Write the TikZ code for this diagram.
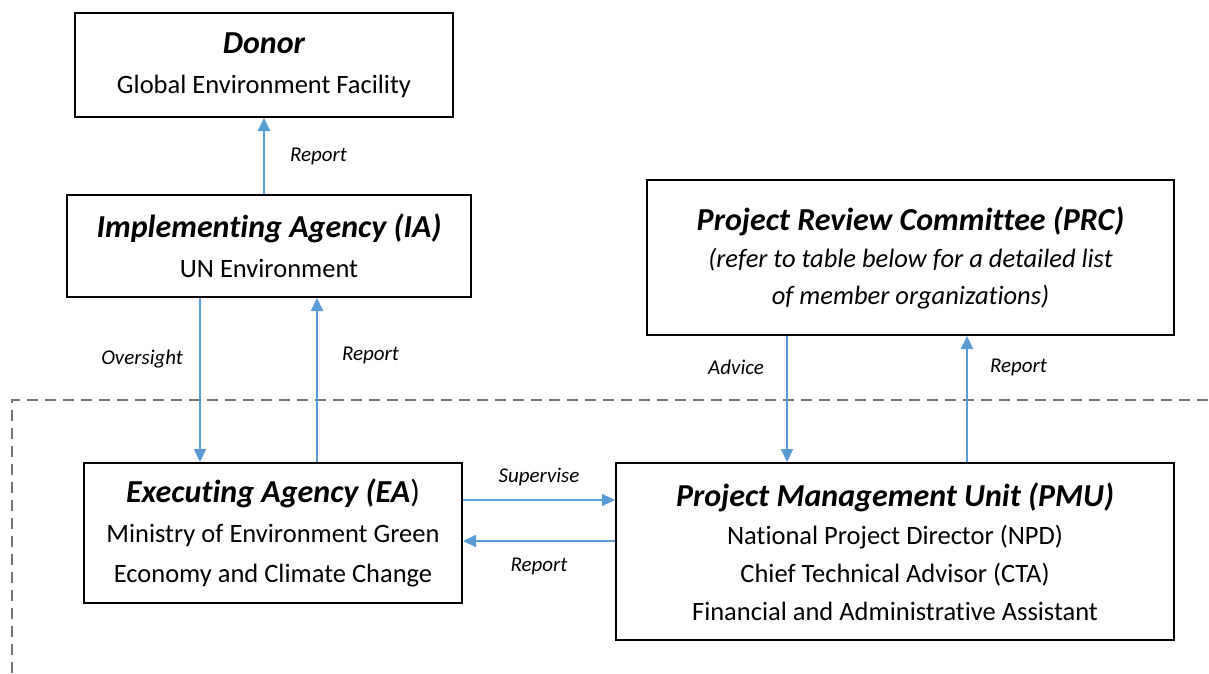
\documentclass[tikz,border=0pt]{standalone}
\usepackage{fontspec}
\setmainfont{Carlito}[Ligatures=NoCommon]
\usetikzlibrary{positioning,arrows.meta}
\definecolor{linkblue}{RGB}{91,155,213}
\definecolor{fencegray}{RGB}{118,116,116}
\newcommand{\unittitle}[1]{{\fontsize{32}{42}\selectfont\bfseries\itshape #1}}
\tikzset{
    >={Triangle[width=12pt,length=13pt]},
    unitbox/.style={
        rectangle,
        draw=black, line width=2pt,
        align=center,
        inner sep=0pt,
        font=\fontsize{26.5}{40}\selectfont
    },
    link/.style={draw=linkblue, line width=2pt, ->},
    linklabel/.style={font=\fontsize{21}{24}\selectfont\itshape, inner sep=2pt},
    fence/.style={draw=fencegray, line width=2.8pt, dash pattern=on 11pt off 7pt}
}
\begin{document}
\begin{tikzpicture}[x=1pt, y=-1pt]
    \useasboundingbox (0,0) rectangle (1209,673);

    % boxes
    \node[unitbox, minimum width=378pt, minimum height=104pt] (donor) at (264,65)
        {\unittitle{Donor}\\Global Environment Facility};
    \node[unitbox, minimum width=404pt, minimum height=102pt] (ia) at (269,246)
        {\unittitle{Implementing Agency (IA)}\\UN Environment};
    \node[unitbox, minimum width=527pt, minimum height=155pt, font=\fontsize{26.5}{37}\selectfont\itshape] (prc) at (910.5,257.5)
        {\unittitle{Project Review Committee (PRC)}\\(refer to table below for a detailed list\\of member organizations)};
    \node[unitbox, minimum width=378pt, minimum height=140pt] (ea) at (273,533)
        {\unittitle{Executing Agency (EA}{\fontsize{32}{42}\selectfont )}\\Ministry of Environment Green\\Economy and Climate Change};
    \node[unitbox, minimum width=558pt, minimum height=177pt, font=\fontsize{26.5}{38}\selectfont] (pmu) at (895,551.5)
        {\unittitle{Project Management Unit (PMU)}\\National Project Director (NPD)\\Chief Technical Advisor (CTA)\\Financial and Administrative Assistant};

    % project boundary
    \draw[fence] (12,673) -- (12,400) -- (1209,400);

    % reporting lines
    \draw[link] (ia.north -| donor.south) -- (donor.south)
        node[linklabel, pos=0.5, right=23pt] {Report};
    \draw[link] ([xshift=-69pt]ia.south) -- ([xshift=-69pt]ia.south |- ea.north)
        node[linklabel, pos=0.37, left=14pt] {Oversight};
    \draw[link] ([xshift=48pt]ia.south |- ea.north) -- ([xshift=48pt]ia.south)
        node[linklabel, pos=0.65, right=22pt] {Report};
    \draw[link] ([xshift=-123.5pt]prc.south) -- ([xshift=-123.5pt]prc.south |- pmu.north)
        node[linklabel, pos=0.25, left=20pt] {Advice};
    \draw[link] ([xshift=56.5pt]prc.south |- pmu.north) -- ([xshift=56.5pt]prc.south)
        node[linklabel, pos=0.75, right=20pt] {Report};
    \draw[link] ([yshift=33pt]ea.east) -- ([yshift=33pt]ea.east -| pmu.west)
        node[linklabel, midway, above=11pt] {Supervise};
    \draw[link] ([yshift=-8pt]ea.east -| pmu.west) -- ([yshift=-8pt]ea.east)
        node[linklabel, midway, below=14pt] {Report};
\end{tikzpicture}
\end{document}
